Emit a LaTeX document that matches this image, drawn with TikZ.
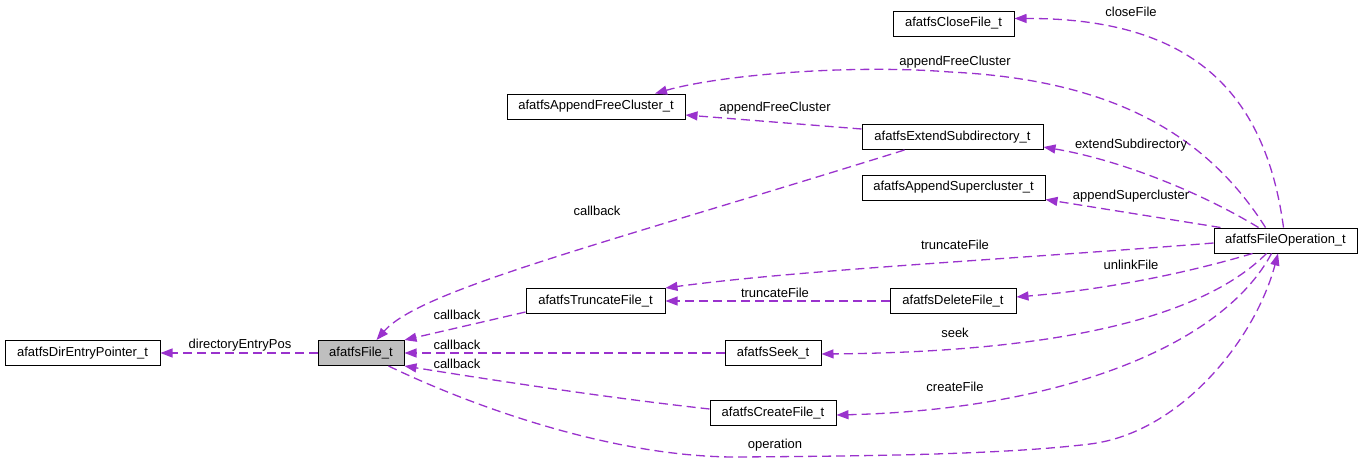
\documentclass[tikz,border=0pt]{standalone}
\usepackage{fontspec}
\setmainfont{Liberation Sans}
\usetikzlibrary{arrows.meta}
\definecolor{edgec}{HTML}{9A32CD}
\definecolor{boxfill}{HTML}{BFBFBF}
\tikzset{
  cls/.style={draw=black, line width=1pt, fill=white, inner sep=0pt, minimum height=25pt, font=\fontsize{13}{15}\selectfont},
  lbl/.style={inner sep=0pt, font=\fontsize{13}{15}\selectfont},
  rel/.style={draw=edgec, line width=1.3pt, dash pattern=on 9pt off 5pt, -{Triangle[length=12pt,width=9pt]}}
}
\begin{document}
\begin{tikzpicture}[x=1pt,y=-1pt]
\useasboundingbox (0,0) rectangle (1363,463);
% nodes
\node[cls, minimum width=155pt] (dir) at (82.5,353) {afatfsDirEntryPointer\_t};
\node[cls, minimum width=86pt, fill=boxfill] (file) at (361,353) {afatfsFile\_t};
\node[cls, minimum width=121pt] (close) at (953.5,23.5) {afatfsCloseFile\_t};
\node[cls, minimum width=178pt] (afc) at (596,106.5) {afatfsAppendFreeCluster\_t};
\node[cls, minimum width=181pt] (ext) at (952.5,137) {afatfsExtendSubdirectory\_t};
\node[cls, minimum width=183pt] (asc) at (953.5,187.5) {afatfsAppendSupercluster\_t};
\node[cls, minimum width=143pt] (fop) at (1285.5,240.5) {afatfsFileOperation\_t};
\node[cls, minimum width=139pt] (trunc) at (595.5,301) {afatfsTruncateFile\_t};
\node[cls, minimum width=126pt] (del) at (953,301) {afatfsDeleteFile\_t};
\node[cls, minimum width=96pt] (seek) at (773,353) {afatfsSeek\_t};
\node[cls, minimum width=126pt] (create) at (773,413) {afatfsCreateFile\_t};
% edges
\draw[rel] (file.west) -- (dir.east);
\draw[rel] ([xshift=43pt]ext.south west) .. controls (600,245) and (420,290) .. ([xshift=59pt]file.north west);
\draw[rel] ([yshift=-11pt]trunc.west) -- (file.north east);
\draw[rel] (seek.west) -- (file.east);
\draw[rel] ([yshift=4pt]create.west) .. controls (600,397) and (480,378) .. (file.south east);
\draw[rel] ([xshift=-16pt]file.south east) .. controls (480,410) and (620,458) .. (740,457)
   .. controls (860,456) and (1000,455) .. (1090,444)
   .. controls (1180,433) and (1255,340) .. ([xshift=-7.5pt]fop.south);
\draw[rel] ([xshift=-2pt]fop.north) .. controls (1265,90) and (1190,18) .. ([yshift=5pt]close.east);
\draw[rel] ([xshift=-20pt]fop.north) .. controls (1210,140) and (1120,80) .. (950,72)
   .. controls (850,64) and (720,75) .. ([xshift=59pt]afc.north);
\draw[rel] ([yshift=8pt]ext.west) -- ([yshift=-8.5pt]afc.east);
\draw[rel] ([xshift=-27pt]fop.north) .. controls (1200,192) and (1120,160) .. ([yshift=-10pt]ext.east);
\draw[rel] ([xshift=7pt]fop.north west) -- ([yshift=1pt]asc.south east);
\draw[rel] ([yshift=-2.5pt]fop.west) .. controls (1000,260) and (800,270) .. (trunc.north east);
\draw[rel] (del.west) -- (trunc.east);
\draw[rel] ([xshift=39pt]fop.south west) .. controls (1180,275) and (1100,290) .. ([yshift=4pt]del.east);
\draw[rel] ([xshift=53pt]fop.south west) .. controls (1200,320) and (1050,352) .. ([yshift=-1pt]seek.east);
\draw[rel] ([xshift=58pt]fop.south west) .. controls (1220,350) and (1050,410) .. ([yshift=-2pt]create.east);
% labels
\node[lbl] (l1) at (240,345) {directoryEntryPos};
\node[lbl] (l2) at (597,210.5) {callback};
\node[lbl] (l3) at (457,315) {callback};
\node[lbl] (l4) at (457,345) {callback};
\node[lbl] (l5) at (457,364) {callback};
\node[lbl] (l6) at (775,445) {operation};
\node[lbl] (l7) at (1131,12) {closeFile};
\node[lbl] (l8) at (955,62.5) {appendFreeCluster};
\node[lbl] (l9) at (775,108.5) {appendFreeCluster};
\node[lbl] (l10) at (1131,145) {extendSubdirectory};
\node[lbl] (l11) at (1131,196) {appendSupercluster};
\node[lbl] (l12) at (955,245) {truncateFile};
\node[lbl] (l13) at (775,292.5) {truncateFile};
\node[lbl] (l14) at (1131,264.5) {unlinkFile};
\node[lbl] (l15) at (955,333) {seek};
\node[lbl] (l16) at (955,387) {createFile};
\end{tikzpicture}
\end{document}
